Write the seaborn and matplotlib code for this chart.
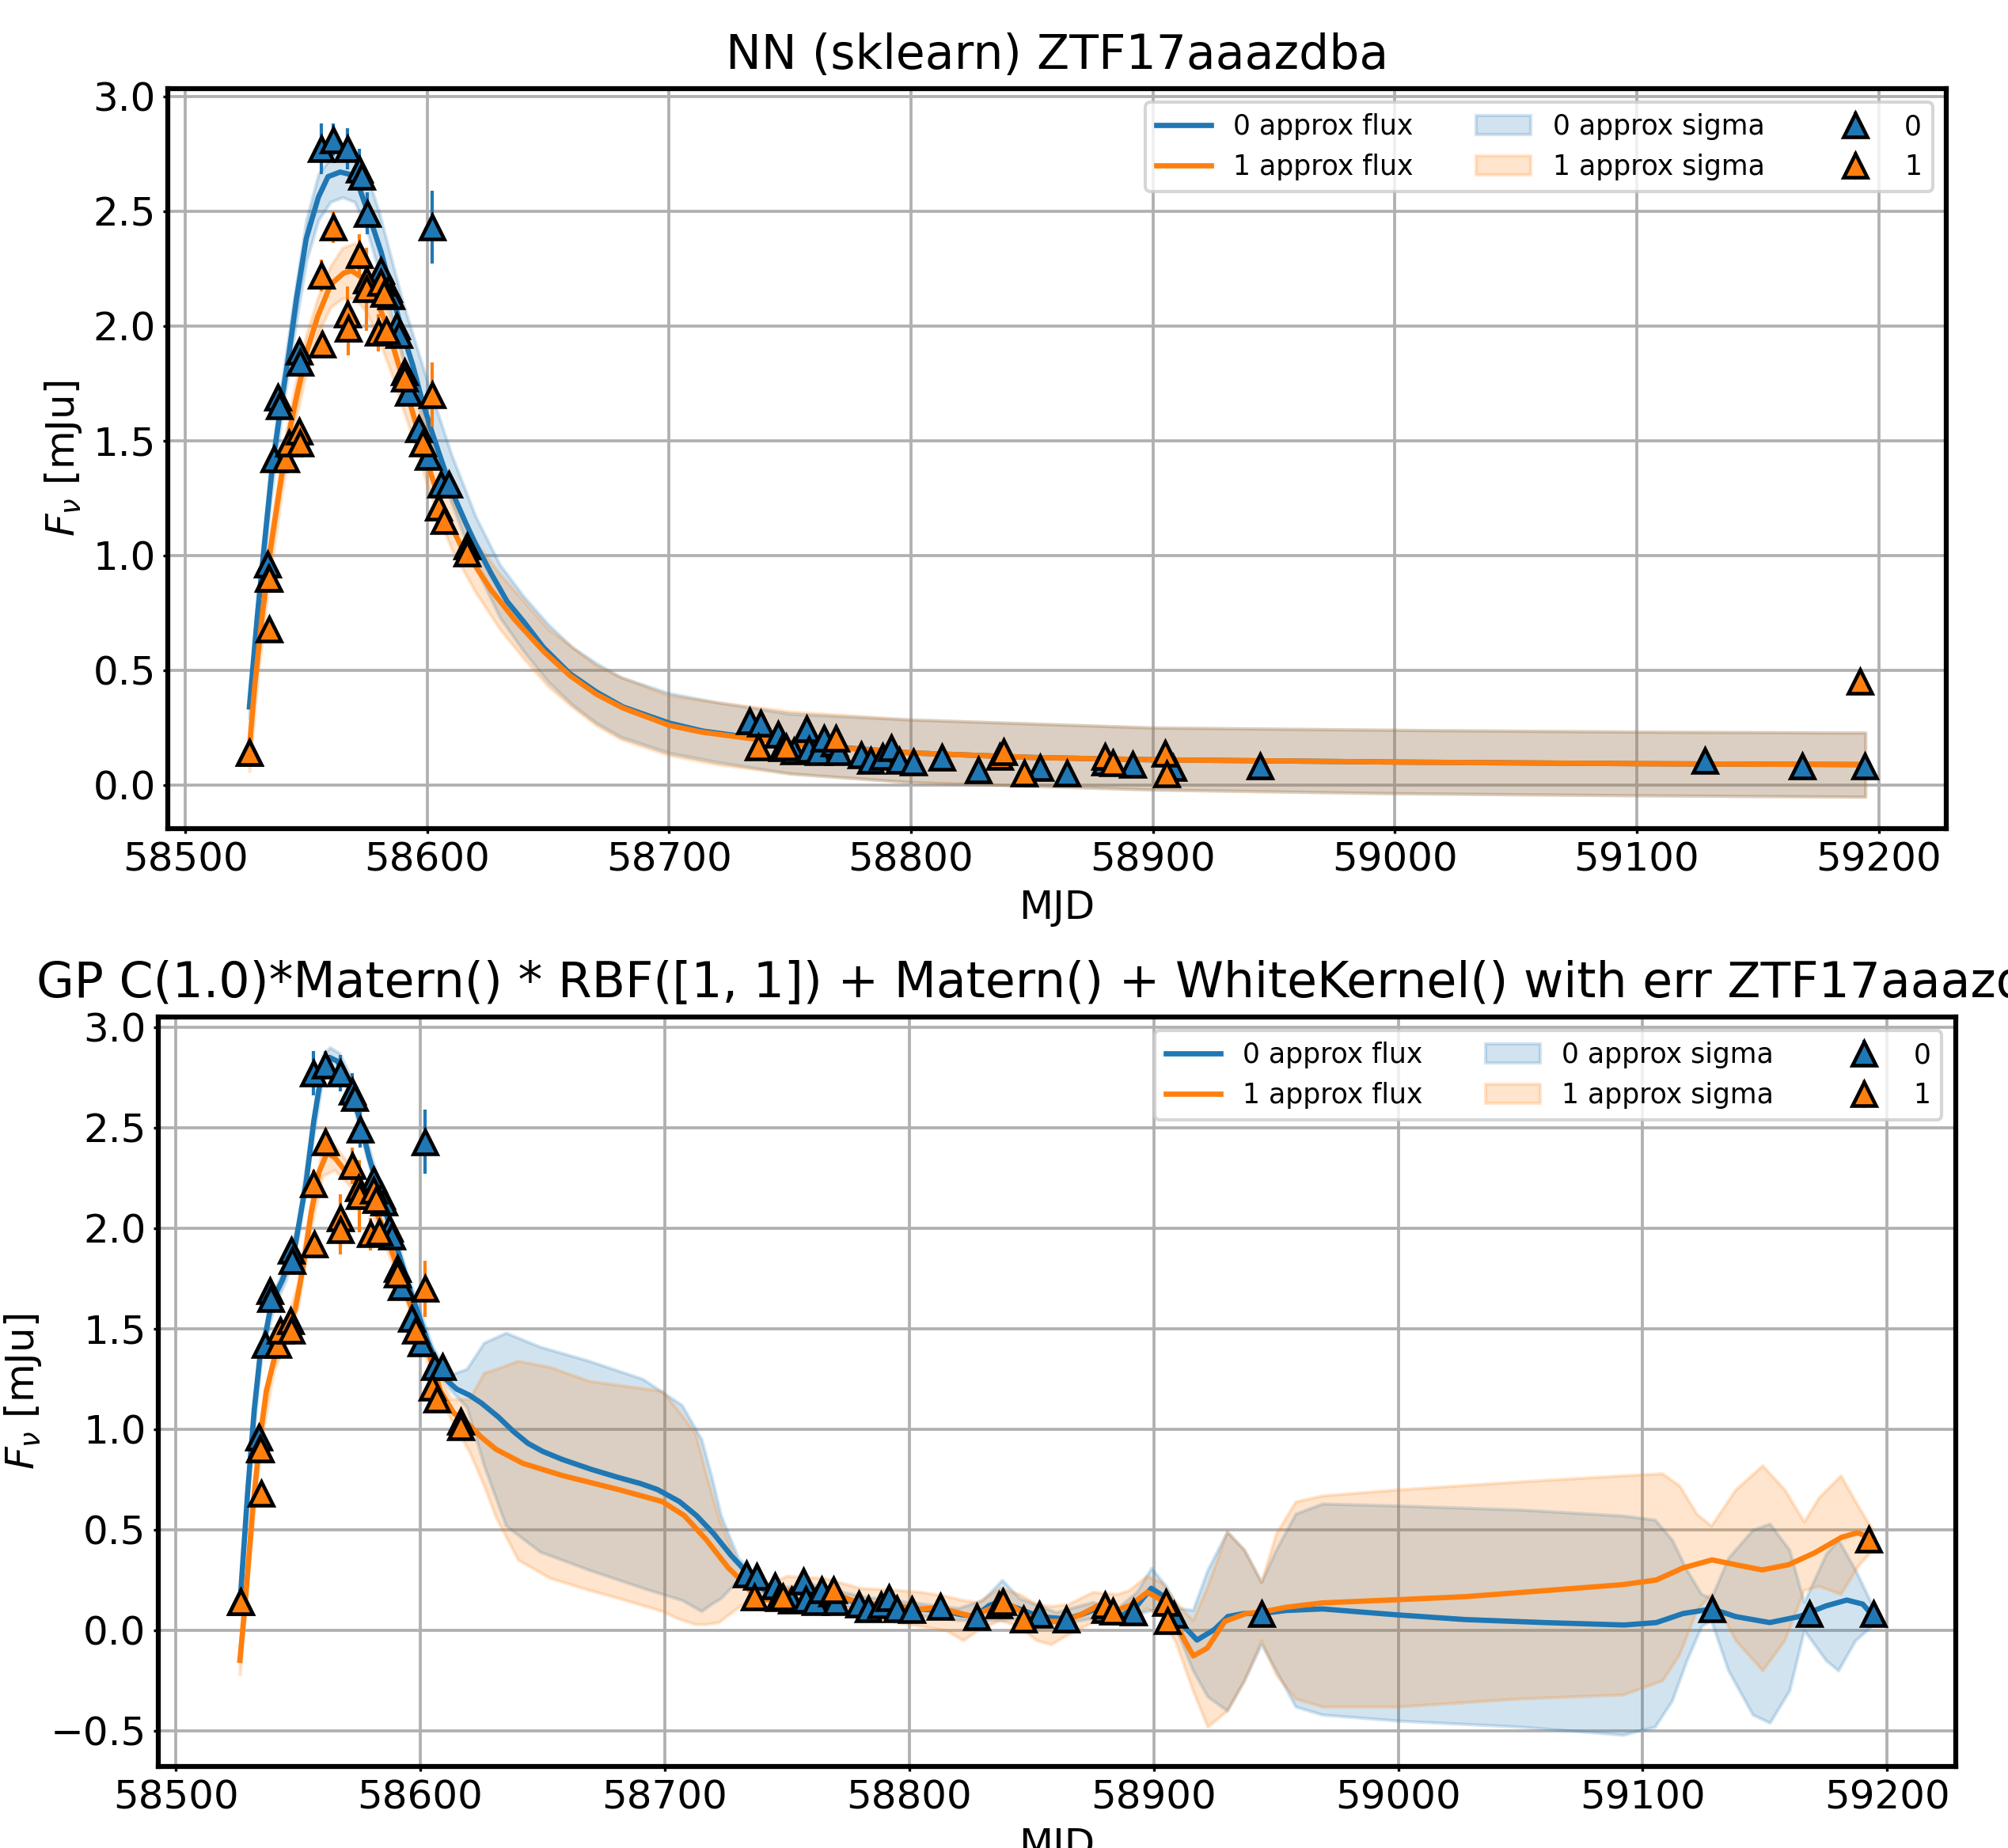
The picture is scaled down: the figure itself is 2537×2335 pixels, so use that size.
import matplotlib
matplotlib.use("Agg")
import matplotlib.pyplot as plt
import seaborn as sns

plt.rcParams['font.family'] = ['DejaVu Sans']
plt.rcParams['font.size'] = 12
plt.rcParams['mathtext.fontset'] = 'dejavusans'
plt.rcParams['axes.linewidth'] = 1.5

OBJECT_NAME = 'ZTF17aaazdba'
PASSBANDS = ['0', '1']
COLORS = ['#1f77b4', '#ff7f0e']
TITLES = ['NN (sklearn) ' + OBJECT_NAME,
          'GP C(1.0)*Matern() * RBF([1, 1]) + Matern() + WhiteKernel() with err ' + OBJECT_NAME]

# observations, passband 0
mjd0 = [58526.4, 58534.0, 58534.3, 58536.5, 58538.4, 58538.8, 58547.1, 58547.4, 58556.3, 58561.2,
        58567.2, 58572.1, 58573.0, 58575.3, 58580.8, 58584.0, 58585.0, 58587.3, 58588.4, 58590.5,
        58592.2, 58596.5, 58600.3, 58602.0, 58605.8, 58609.0, 58616.6, 58733.3, 58737.7, 58745.0,
        58746.7, 58751.7, 58756.7, 58757.7, 58761.7, 58764.0, 58768.3, 58770.0, 58779.3, 58783.3,
        58788.3, 58791.7, 58795.0, 58801.0, 58812.7, 58827.7, 58853.3, 58864.3, 58880.0, 58891.7,
        58908.3, 58944.3, 59128.3, 59168.3, 59194.3]
flux0 = [0.14, 0.96, 0.90, 1.42, 1.69, 1.65, 1.89, 1.84, 2.77, 2.81,
         2.77, 2.68, 2.65, 2.49, 2.24, 2.16, 2.13, 2.00, 1.96, 1.80,
         1.71, 1.55, 1.43, 2.43, 1.31, 1.31, 1.04, 0.279, 0.267, 0.220,
         0.160, 0.148, 0.243, 0.154, 0.143, 0.202, 0.184, 0.143, 0.131, 0.107,
         0.125, 0.160, 0.107, 0.101, 0.119, 0.065, 0.077, 0.053, 0.101, 0.089,
         0.077, 0.083, 0.107, 0.083, 0.083]
err0 = [0.02, 0.03, 0.03, 0.03, 0.05, 0.04, 0.05, 0.04, 0.11, 0.07,
        0.09, 0.09, 0.06, 0.09, 0.05, 0.04, 0.04, 0.04, 0.03, 0.04,
        0.03, 0.03, 0.03, 0.16, 0.03, 0.03, 0.03, 0.02, 0.02, 0.02,
        0.02, 0.02, 0.02, 0.02, 0.02, 0.02, 0.02, 0.02, 0.02, 0.02,
        0.02, 0.02, 0.02, 0.02, 0.02, 0.02, 0.02, 0.02, 0.02, 0.02,
        0.02, 0.02, 0.02, 0.02, 0.02]

# observations, passband 1
mjd1 = [58526.6, 58534.6, 58534.8, 58541.6, 58542.7, 58547.0, 58547.3, 58556.3, 58556.5, 58561.2,
        58567.2, 58567.4, 58572.0, 58574.8, 58575.0, 58579.7, 58580.8, 58582.0, 58583.0, 58590.5,
        58598.2, 58602.0, 58604.7, 58606.8, 58616.6, 58736.7, 58748.3, 58769.0, 58836.7, 58838.3,
        58846.7, 58880.0, 58883.3, 58905.0, 58905.7, 59192.3]
flux1 = [0.14, 0.90, 0.68, 1.42, 1.49, 1.54, 1.49, 2.22, 1.92, 2.43,
         2.05, 1.99, 2.31, 2.20, 2.16, 1.97, 2.19, 2.14, 1.98, 1.77,
         1.49, 1.70, 1.21, 1.15, 1.01, 0.166, 0.166, 0.202, 0.125, 0.143,
         0.053, 0.125, 0.095, 0.137, 0.047, 0.452]
err1 = [0.06, 0.03, 0.03, 0.04, 0.04, 0.04, 0.04, 0.07, 0.06, 0.07,
        0.12, 0.12, 0.09, 0.08, 0.18, 0.08, 0.06, 0.05, 0.05, 0.04,
        0.04, 0.14, 0.03, 0.03, 0.03, 0.03, 0.03, 0.03, 0.03, 0.03,
        0.03, 0.03, 0.03, 0.03, 0.03, 0.03]

# NN approximation
nn_x0 = [58526.5, 58530, 58533, 58536, 58539.5, 58543, 58546, 58550, 58555, 58559,
         58564, 58568, 58572, 58576, 58581, 58585, 58589.5, 58594, 58598, 58602.5,
         58607, 58611, 58616, 58620, 58626.5, 58633, 58640, 58648, 58659, 58670,
         58681, 58700, 58714, 58735, 58757, 58800, 58850, 58900, 59000, 59100, 59194.5]
nn_y0 = [0.34, 0.76, 1.08, 1.39, 1.65, 1.89, 2.12, 2.38, 2.56, 2.65,
         2.67, 2.66, 2.60, 2.48, 2.32, 2.16, 1.98, 1.83, 1.67, 1.52,
         1.38, 1.26, 1.14, 1.05, 0.92, 0.80, 0.71, 0.60, 0.485, 0.405,
         0.34, 0.27, 0.235, 0.205, 0.175, 0.14, 0.12, 0.11, 0.10, 0.093, 0.089]
nn_x1 = [58526.5, 58528.6, 58531.8, 58535.1, 58538.4, 58541.6, 58546, 58550.3, 58554.7, 58560.1,
         58565.5, 58568.8, 58573.1, 58577.5, 58581.8, 58586.2, 58590.5, 58594.9, 58599.2, 58603.6,
         58609, 58614.5, 58619.9, 58626.4, 58636.2, 58648.3, 58659.2, 58670, 58681, 58700,
         58713.6, 58735.4, 58757, 58800, 58850, 58900, 59000, 59100, 59194.5]
nn_y1 = [0.16, 0.42, 0.74, 1.02, 1.25, 1.47, 1.69, 1.89, 2.04, 2.18,
         2.23, 2.24, 2.21, 2.15, 2.04, 1.90, 1.75, 1.59, 1.43, 1.29,
         1.15, 1.03, 0.955, 0.85, 0.72, 0.58, 0.475, 0.395, 0.335, 0.26,
         0.23, 0.20, 0.172, 0.14, 0.12, 0.11, 0.10, 0.093, 0.089]
nn_bx = [58526.5, 58530, 58535, 58540, 58545, 58550, 58555, 58560, 58565, 58570,
         58575, 58580, 58585, 58590, 58595, 58600, 58605, 58610, 58620, 58630,
         58640, 58650, 58660, 58670, 58680, 58700, 58720, 58750, 58800, 58900,
         59000, 59100, 59194.5]
nn_lo0 = [0.29, 0.70, 1.22, 1.62, 1.96, 2.28, 2.46, 2.54, 2.56, 2.54,
          2.42, 2.24, 2.05, 1.86, 1.70, 1.53, 1.38, 1.23, 0.95, 0.73,
          0.58, 0.45, 0.35, 0.27, 0.21, 0.14, 0.10, 0.05, 0.012, -0.02,
          -0.036, -0.045, -0.051]
nn_hi0 = [0.39, 0.82, 1.36, 1.76, 2.12, 2.46, 2.66, 2.73, 2.76, 2.76,
          2.66, 2.50, 2.30, 2.10, 1.93, 1.76, 1.60, 1.44, 1.17, 0.96,
          0.82, 0.70, 0.60, 0.53, 0.47, 0.40, 0.36, 0.31, 0.285, 0.25,
          0.24, 0.232, 0.228]
nn_lo1 = [0.06, 0.48, 0.92, 1.28, 1.56, 1.80, 1.97, 2.08, 2.12, 2.12,
          2.06, 1.94, 1.80, 1.64, 1.48, 1.31, 1.16, 1.03, 0.84, 0.68,
          0.55, 0.43, 0.34, 0.26, 0.20, 0.13, 0.09, 0.05, 0.012, -0.02,
          -0.036, -0.045, -0.051]
nn_hi1 = [0.24, 0.64, 1.08, 1.44, 1.72, 1.96, 2.13, 2.26, 2.34, 2.36,
          2.30, 2.18, 2.03, 1.86, 1.70, 1.54, 1.38, 1.24, 1.06, 0.92,
          0.80, 0.68, 0.60, 0.52, 0.47, 0.39, 0.36, 0.32, 0.285, 0.25,
          0.24, 0.232, 0.228]

# GP approximation
gp_x0 = [58526.5, 58529.4, 58532.1, 58534.3, 58537.0, 58539.1, 58543.5, 58548.9, 58553.2, 58556.4,
         58559.7, 58562.9, 58566.2, 58570.5, 58574.8, 58579.1, 58584.5, 58590.0, 58596.4, 58602.9,
         58609.4, 58614.8, 58620.0, 58625.0, 58632.0, 58638.0, 58644.0, 58650.0, 58658.0, 58670.0,
         58681.0, 58690.0, 58697.0, 58706.0, 58713.0, 58720.0, 58727.0, 58733.0, 58739.0, 58743.4,
         58747.7, 58754.9, 58763.5, 58770.7, 58777.9, 58785.2, 58792.4, 58799.6, 58806.8, 58814.0,
         58821.2, 58827.0, 58832.7, 58837.0, 58842.8, 58850.0, 58857.2, 58864.4, 58870.2, 58875.9,
         58881.7, 58887.5, 58893.2, 58899.0, 58904.8, 58910.5, 58917.7, 58924.9, 58930.3, 58936.8,
         58944.4, 58954.0, 58969.0, 58984.4, 59000.0, 59027.5, 59060.0, 59092.4, 59105.6, 59116.5,
         59128.4, 59138.0, 59152.0, 59164.0, 59175.0, 59183.5, 59190.0, 59194.5]
gp_y0 = [0.18, 0.69, 1.10, 1.35, 1.49, 1.63, 1.74, 1.92, 2.22, 2.53,
         2.78, 2.85, 2.83, 2.72, 2.56, 2.35, 2.13, 1.92, 1.67, 1.44,
         1.26, 1.20, 1.17, 1.13, 1.06, 0.99, 0.93, 0.89, 0.85, 0.80,
         0.76, 0.73, 0.70, 0.64, 0.57, 0.48, 0.374, 0.295, 0.216, 0.176,
         0.176, 0.196, 0.189, 0.176, 0.136, 0.123, 0.130, 0.110, 0.103, 0.097,
         0.077, 0.070, 0.123, 0.143, 0.116, 0.083, 0.063, 0.057, 0.077, 0.103,
         0.083, 0.077, 0.123, 0.209, 0.163, 0.044, -0.049, 0.004, 0.068, 0.083,
         0.083, 0.098, 0.106, 0.091, 0.076, 0.053, 0.038, 0.026, 0.038, 0.083,
         0.106, 0.068, 0.038, 0.068, 0.121, 0.150, 0.130, 0.068]
gp_x1 = [58526.2, 58528.3, 58531.6, 58534.3, 58537.0, 58541.3, 58545.6, 58548.9, 58552.1, 58555.4,
         58558.6, 58561.9, 58565.1, 58568.3, 58574.8, 58580.2, 58584.5, 58590.0, 58596.4, 58602.9,
         58608.3, 58613.7, 58619.3, 58625.0, 58631.0, 58642.0, 58658.0, 58681.0, 58699.0, 58708.0,
         58717.0, 58726.0, 58731.8, 58736.2, 58741.9, 58747.7, 58754.9, 58762.0, 58767.7, 58773.5,
         58780.7, 58787.9, 58795.1, 58802.3, 58809.5, 58816.7, 58825.4, 58831.2, 58836.9, 58842.7,
         58848.4, 58855.7, 58862.9, 58870.1, 58877.3, 58884.5, 58890.2, 58897.4, 58903.2, 58909.0,
         58916.2, 58921.9, 58929.1, 58937.8, 58944.4, 58954.0, 58969.0, 59000.0, 59027.5, 59060.0,
         59092.0, 59105.6, 59116.5, 59128.4, 59138.0, 59148.9, 59159.7, 59170.5, 59181.3, 59187.8,
         59193.0]
gp_y1 = [-0.15, 0.125, 0.625, 0.94, 1.19, 1.40, 1.49, 1.60, 1.81, 2.08,
         2.28, 2.375, 2.35, 2.30, 2.22, 2.13, 2.01, 1.83, 1.60, 1.40,
         1.19, 1.08, 1.03, 0.96, 0.90, 0.83, 0.77, 0.70, 0.64, 0.57,
         0.45, 0.31, 0.242, 0.176, 0.150, 0.176, 0.216, 0.200, 0.189, 0.163,
         0.130, 0.130, 0.123, 0.103, 0.110, 0.097, 0.070, 0.097, 0.130, 0.116,
         0.070, 0.044, 0.044, 0.077, 0.123, 0.097, 0.123, 0.189, 0.150, 0.030,
         -0.128, -0.089, 0.044, 0.083, 0.091, 0.114, 0.136, 0.152, 0.167, 0.197,
         0.227, 0.250, 0.310, 0.350, 0.326, 0.300, 0.326, 0.386, 0.462, 0.485,
         0.462]
gp_bx0 = [58526.5, 58530, 58535, 58540, 58545, 58550, 58555, 58560, 58563, 58567,
          58572, 58578, 58585, 58595, 58605, 58612, 58619, 58626, 58635, 58649,
          58669, 58691, 58707, 58715, 58719, 58723, 58730, 58735, 58745, 58760,
          58780, 58800, 58820, 58830, 58838, 58845, 58860, 58875, 58885, 58893,
          58899, 58905, 58910, 58916, 58922, 58930, 58937, 58944, 58950, 58958,
          58969, 59000, 59050, 59092, 59105, 59112, 59118, 59124, 59128, 59135,
          59145, 59152, 59160, 59166, 59175, 59180, 59187, 59194.5]
gp_lo0 = [0.16, 0.78, 1.36, 1.60, 1.74, 1.95, 2.36, 2.74, 2.80, 2.77,
          2.64, 2.36, 2.07, 1.68, 1.33, 1.20, 1.11, 0.82, 0.52, 0.39,
          0.30, 0.21, 0.15, 0.095, 0.13, 0.16, 0.25, 0.22, 0.14, 0.16,
          0.10, 0.08, 0.05, 0.05, 0.05, 0.06, 0.03, 0.06, 0.05, 0.08,
          0.10, 0.10, -0.02, -0.20, -0.33, -0.40, -0.25, -0.07, -0.20, -0.38,
          -0.42, -0.45, -0.48, -0.52, -0.48, -0.35, -0.15, 0.02, 0.05, -0.20,
          -0.42, -0.46, -0.30, 0.00, -0.15, -0.20, -0.05, 0.03]
gp_hi0 = [0.22, 0.86, 1.44, 1.68, 1.82, 2.03, 2.46, 2.86, 2.90, 2.87,
          2.74, 2.44, 2.15, 1.76, 1.41, 1.27, 1.30, 1.43, 1.48, 1.41,
          1.34, 1.25, 1.12, 0.95, 0.77, 0.57, 0.36, 0.30, 0.21, 0.23,
          0.17, 0.14, 0.11, 0.15, 0.25, 0.16, 0.09, 0.14, 0.11, 0.19,
          0.31, 0.22, 0.11, 0.10, 0.30, 0.49, 0.40, 0.24, 0.40, 0.58,
          0.63, 0.62, 0.60, 0.57, 0.55, 0.45, 0.30, 0.18, 0.16, 0.36,
          0.50, 0.53, 0.40, 0.14, 0.38, 0.45, 0.30, 0.11]
gp_bx1 = [58526.2, 58530, 58535, 58540, 58545, 58550, 58555, 58560, 58565, 58572,
          58580, 58590, 58600, 58607, 58612.5, 58620, 58626, 58631, 58640, 58653,
          58669, 58681, 58699, 58705, 58712.5, 58717, 58722, 58728, 58733, 58740,
          58750, 58765, 58780, 58795, 58805, 58815, 58822, 58828, 58837, 58845,
          58852, 58858, 58865, 58875, 58885, 58890, 58897, 58903, 58909, 58916,
          58922, 58930, 58937, 58944, 58950, 58958, 58969, 59000, 59050, 59092,
          59108, 59115, 59122, 59128, 59138, 59149, 59158, 59166, 59172, 59181,
          59188, 59194]
gp_lo1 = [-0.22, 0.33, 0.95, 1.29, 1.43, 1.61, 1.99, 2.26, 2.29, 2.20,
          2.08, 1.78, 1.44, 1.19, 1.05, 0.89, 0.72, 0.56, 0.35, 0.26,
          0.20, 0.16, 0.095, 0.06, 0.03, 0.03, 0.04, 0.095, 0.14, 0.10,
          0.12, 0.12, 0.07, 0.04, 0.02, 0.00, -0.05, 0.00, 0.05, 0.02,
          -0.05, -0.07, -0.02, 0.04, 0.03, 0.05, 0.11, 0.07, -0.06, -0.30,
          -0.48, -0.40, -0.25, -0.05, -0.22, -0.34, -0.38, -0.38, -0.34, -0.32,
          -0.25, -0.12, 0.10, 0.18, -0.05, -0.20, -0.05, 0.20, 0.22, 0.18,
          0.32, 0.40]
gp_hi1 = [-0.08, 0.47, 1.06, 1.39, 1.53, 1.73, 2.11, 2.40, 2.41, 2.30,
          2.18, 1.88, 1.54, 1.29, 1.15, 1.15, 1.28, 1.30, 1.34, 1.31,
          1.24, 1.22, 1.19, 1.10, 0.98, 0.77, 0.56, 0.38, 0.26, 0.22,
          0.27, 0.26, 0.21, 0.20, 0.19, 0.17, 0.15, 0.14, 0.21, 0.18,
          0.13, 0.12, 0.13, 0.19, 0.18, 0.20, 0.27, 0.24, 0.14, 0.05,
          0.22, 0.49, 0.40, 0.24, 0.48, 0.64, 0.67, 0.70, 0.74, 0.77,
          0.78, 0.72, 0.58, 0.52, 0.70, 0.82, 0.70, 0.54, 0.66, 0.77,
          0.62, 0.50]

XLIM = (58492.8, 59228.0)
YLIMS = [(-0.19, 3.033), (-0.678, 3.051)]
AX_POS = [[0.0836, 0.5516, 0.8857, 0.4004],
          [0.0788, 0.0441, 0.8951, 0.4056]]
YLABEL_X = [-0.047, -0.064]
TITLE_X = [0.5, 0.503]
TITLE_SIZE = [14.4, 14.8]

obs = [(mjd0, flux0, err0), (mjd1, flux1, err1)]
panels = [
    ([(nn_x0, nn_y0), (nn_x1, nn_y1)],
     [(nn_bx, nn_lo0, nn_hi0), (nn_bx, nn_lo1, nn_hi1)]),
    ([(gp_x0, gp_y0), (gp_x1, gp_y1)],
     [(gp_bx0, gp_lo0, gp_hi0), (gp_bx1, gp_lo1, gp_hi1)]),
]

fig = plt.figure(figsize=(2537 / 300, 2335 / 300), dpi=300)

for k, (curves, bands) in enumerate(panels):
    ax = fig.add_axes(AX_POS[k])
    ax.grid(True, color='#b0b0b0', linewidth=0.9, zorder=0)
    ax.set_axisbelow(True)
    ax.tick_params(length=1.5, pad=2.2, labelsize=12)
    lines, fills, pts = [], [], []
    for pb, c, (cx, cy) in zip(PASSBANDS, COLORS, curves):
        sns.lineplot(x=cx, y=cy, ax=ax, color=c, linewidth=1.6, zorder=3,
                     label=pb + ' approx flux', legend=False)
        lines.append(ax.lines[-1])
    for pb, c, (bx, lo, hi) in zip(PASSBANDS, COLORS, bands):
        fills.append(ax.fill_between(bx, lo, hi, color=c, alpha=0.2, zorder=2,
                                     label=pb + ' approx sigma'))
    for pb, c, (mx, my, me) in zip(PASSBANDS, COLORS, obs):
        pts.append(ax.errorbar(mx, my, yerr=me, fmt='^', color=c, ms=7,
                               mec='black', mew=1.1, elinewidth=1.0, zorder=4,
                               label=pb))
    ax.set_xlim(*XLIM)
    ax.set_ylim(*YLIMS[k])
    ax.set_title(TITLES[k], fontsize=TITLE_SIZE[k], x=TITLE_X[k])
    ax.set_xlabel('MJD', fontsize=12, labelpad=3)
    ax.set_ylabel(r'$F_{\nu}$ [mJu]', fontsize=12)
    ax.yaxis.set_label_coords(YLABEL_X[k], 0.5)
    handles = lines + fills + pts
    ax.legend(handles, [h.get_label() for h in handles], ncol=3,
              loc='upper right', fontsize=8.3, columnspacing=2.3)

fig.savefig('out.png', dpi=300)
